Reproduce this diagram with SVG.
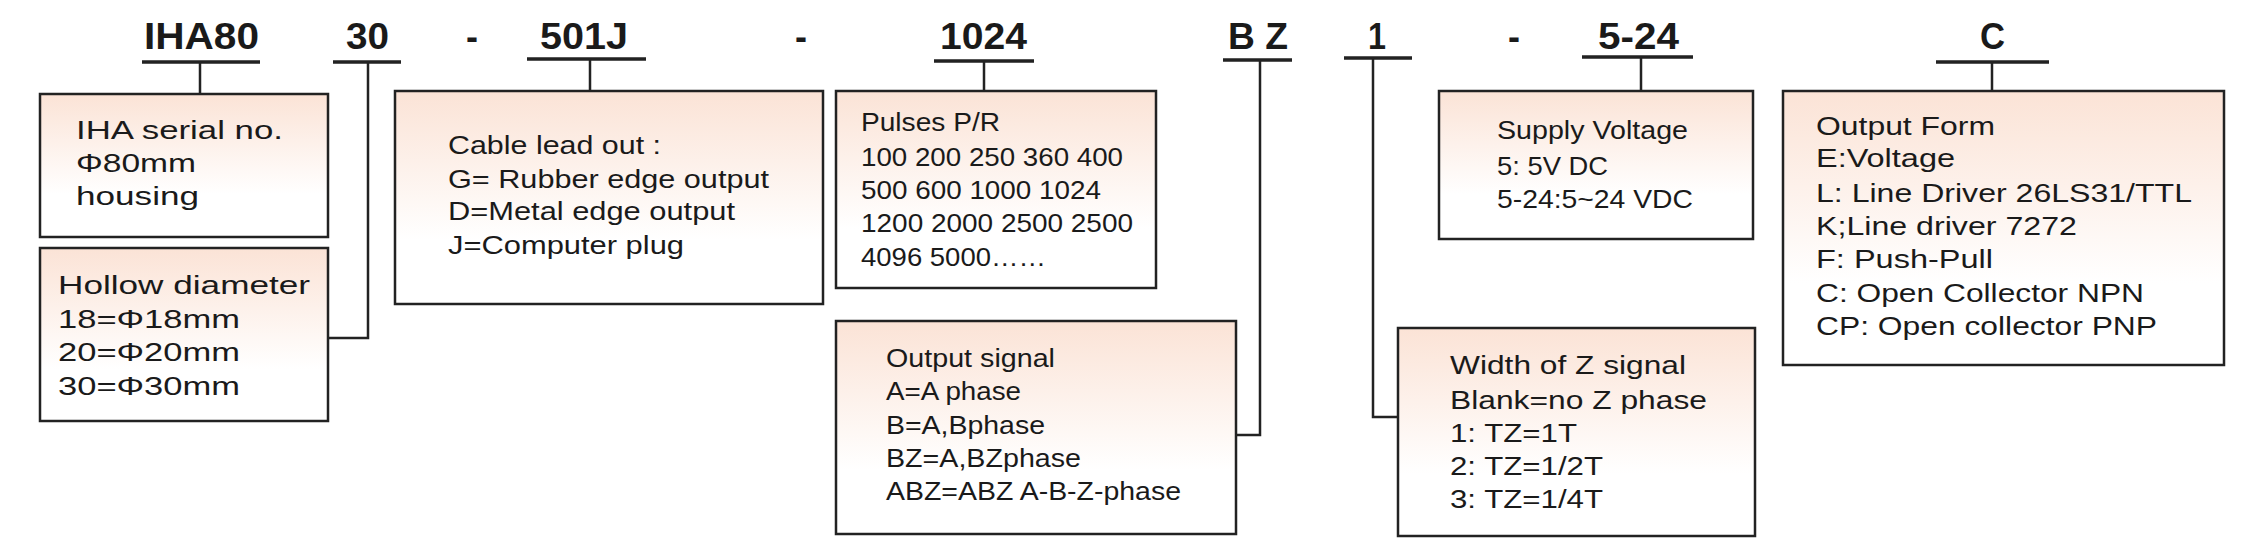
<svg xmlns="http://www.w3.org/2000/svg" width="2254" height="556" viewBox="0 0 2254 556">
<defs>
<linearGradient id="g" x1="0" y1="0" x2="0" y2="1"><stop offset="0" stop-color="#fbe3d6"/><stop offset="0.7" stop-color="#fff"/></linearGradient>
<style>
.box{fill:url(#g);stroke:#222;stroke-width:2.5}
.t{font-family:"Liberation Sans",Arial,sans-serif;font-size:26px;fill:#1a1a1a}
.h{font-family:"Liberation Sans",Arial,sans-serif;font-size:36px;font-weight:bold;fill:#1a1a1a}
.c{fill:none;stroke:#222;stroke-width:2.5}
.u{fill:none;stroke:#222;stroke-width:3.5}
</style>
</defs>
<rect width="2254" height="556" fill="#fff"/>
<g id="headers">
<text class="h" x="144" y="49" textLength="115" lengthAdjust="spacingAndGlyphs">IHA80</text>
<text class="h" x="346" y="49" textLength="43" lengthAdjust="spacingAndGlyphs">30</text>
<text class="h" x="466" y="49" textLength="12" lengthAdjust="spacingAndGlyphs">-</text>
<text class="h" x="540" y="49" textLength="88" lengthAdjust="spacingAndGlyphs">501J</text>
<text class="h" x="795" y="49" textLength="12" lengthAdjust="spacingAndGlyphs">-</text>
<text class="h" x="940" y="49" textLength="87" lengthAdjust="spacingAndGlyphs">1024</text>
<text class="h" x="1228" y="49" textLength="60" lengthAdjust="spacingAndGlyphs">B Z</text>
<text class="h" x="1368" y="49" textLength="18" lengthAdjust="spacingAndGlyphs">1</text>
<text class="h" x="1508" y="49" textLength="12" lengthAdjust="spacingAndGlyphs">-</text>
<text class="h" x="1598" y="49" textLength="81" lengthAdjust="spacingAndGlyphs">5-24</text>
<text class="h" x="1980" y="49" textLength="25" lengthAdjust="spacingAndGlyphs">C</text>
</g>
<g id="connectors">
<path class="u" d="M142 62H260M333 62H401M527 59H646M934 61H1034M1223 60H1292M1344 58H1412M1582 57H1693M1936 62H2049"/>
<path class="c" d="M200 62V94M368 62V338H328M590 59V91M984 61V91M1260 60V435H1236M1373 58V417H1398M1641 57V91M1992 62V91"/>
</g>
<g id="n-serial">
<rect class="box" x="40" y="94" width="288" height="143"/>
<text class="t" x="76" y="139" textLength="207" lengthAdjust="spacingAndGlyphs">IHA serial no.</text>
<text class="t" x="76" y="172" textLength="120" lengthAdjust="spacingAndGlyphs">Φ80mm</text>
<text class="t" x="76" y="205" textLength="123" lengthAdjust="spacingAndGlyphs">housing</text>
</g>
<g id="n-hollow">
<rect class="box" x="40" y="248" width="288" height="173"/>
<text class="t" x="58" y="294" textLength="252" lengthAdjust="spacingAndGlyphs">Hollow diameter</text>
<text class="t" x="58" y="328" textLength="182" lengthAdjust="spacingAndGlyphs">18=Φ18mm</text>
<text class="t" x="58" y="361" textLength="182" lengthAdjust="spacingAndGlyphs">20=Φ20mm</text>
<text class="t" x="58" y="395" textLength="182" lengthAdjust="spacingAndGlyphs">30=Φ30mm</text>
</g>
<g id="n-cable">
<rect class="box" x="395" y="91" width="428" height="213"/>
<text class="t" x="448" y="154" textLength="213" lengthAdjust="spacingAndGlyphs">Cable lead out :</text>
<text class="t" x="448" y="188" textLength="321" lengthAdjust="spacingAndGlyphs">G= Rubber edge output</text>
<text class="t" x="448" y="220" textLength="287" lengthAdjust="spacingAndGlyphs">D=Metal edge output</text>
<text class="t" x="448" y="254" textLength="236" lengthAdjust="spacingAndGlyphs">J=Computer plug</text>
</g>
<g id="n-pulses">
<rect class="box" x="836" y="91" width="320" height="197"/>
<text class="t" x="861" y="131" textLength="139" lengthAdjust="spacingAndGlyphs">Pulses P/R</text>
<text class="t" x="861" y="166" textLength="262" lengthAdjust="spacingAndGlyphs">100 200 250 360 400</text>
<text class="t" x="861" y="199" textLength="240" lengthAdjust="spacingAndGlyphs">500 600 1000 1024</text>
<text class="t" x="861" y="232" textLength="272" lengthAdjust="spacingAndGlyphs">1200 2000 2500 2500</text>
<text class="t" x="861" y="266" textLength="185" lengthAdjust="spacingAndGlyphs">4096 5000……</text>
</g>
<g id="n-signal">
<rect class="box" x="836" y="321" width="400" height="213"/>
<text class="t" x="886" y="367" textLength="169" lengthAdjust="spacingAndGlyphs">Output signal</text>
<text class="t" x="886" y="400" textLength="135" lengthAdjust="spacingAndGlyphs">A=A phase</text>
<text class="t" x="886" y="434" textLength="159" lengthAdjust="spacingAndGlyphs">B=A,Bphase</text>
<text class="t" x="886" y="467" textLength="195" lengthAdjust="spacingAndGlyphs">BZ=A,BZphase</text>
<text class="t" x="886" y="500" textLength="295" lengthAdjust="spacingAndGlyphs">ABZ=ABZ A-B-Z-phase</text>
</g>
<g id="n-zwidth">
<rect class="box" x="1398" y="328" width="357" height="208"/>
<text class="t" x="1450" y="374" textLength="236" lengthAdjust="spacingAndGlyphs">Width of Z signal</text>
<text class="t" x="1450" y="409" textLength="257" lengthAdjust="spacingAndGlyphs">Blank=no Z phase</text>
<text class="t" x="1450" y="442" textLength="127" lengthAdjust="spacingAndGlyphs">1: TZ=1T</text>
<text class="t" x="1450" y="475" textLength="153" lengthAdjust="spacingAndGlyphs">2: TZ=1/2T</text>
<text class="t" x="1450" y="508" textLength="153" lengthAdjust="spacingAndGlyphs">3: TZ=1/4T</text>
</g>
<g id="n-supply">
<rect class="box" x="1439" y="91" width="314" height="148"/>
<text class="t" x="1497" y="139" textLength="191" lengthAdjust="spacingAndGlyphs">Supply Voltage</text>
<text class="t" x="1497" y="175" textLength="111" lengthAdjust="spacingAndGlyphs">5: 5V DC</text>
<text class="t" x="1497" y="208" textLength="196" lengthAdjust="spacingAndGlyphs">5-24:5~24 VDC</text>
</g>
<g id="n-output">
<rect class="box" x="1783" y="91" width="441" height="274"/>
<text class="t" x="1816" y="135" textLength="179" lengthAdjust="spacingAndGlyphs">Output Form</text>
<text class="t" x="1816" y="167" textLength="139" lengthAdjust="spacingAndGlyphs">E:Voltage</text>
<text class="t" x="1816" y="202" textLength="376" lengthAdjust="spacingAndGlyphs">L: Line Driver 26LS31/TTL</text>
<text class="t" x="1816" y="235" textLength="261" lengthAdjust="spacingAndGlyphs">K;Line driver 7272</text>
<text class="t" x="1816" y="268" textLength="177" lengthAdjust="spacingAndGlyphs">F: Push-Pull</text>
<text class="t" x="1816" y="302" textLength="328" lengthAdjust="spacingAndGlyphs">C: Open Collector NPN</text>
<text class="t" x="1816" y="335" textLength="341" lengthAdjust="spacingAndGlyphs">CP: Open collector PNP</text>
</g>
</svg>
